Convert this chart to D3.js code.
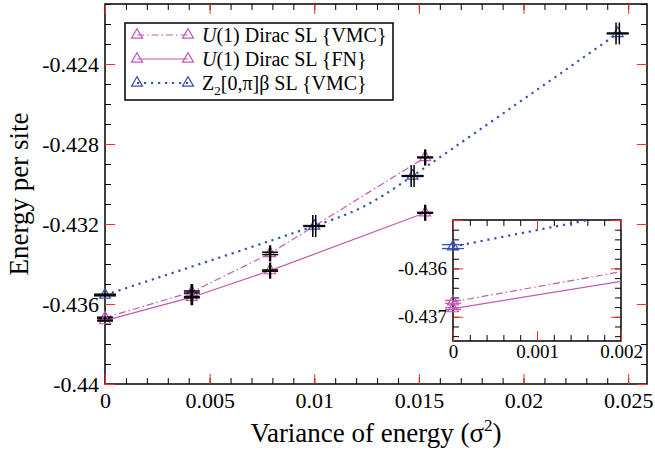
<!DOCTYPE html>
<html>
<head>
<meta charset="utf-8">
<script src="https://cdn.jsdelivr.net/npm/d3@7"></script>
<style>
    body { margin: 0; background: #fff; }
    svg text { font-family: "Liberation Serif", "Times New Roman", Times, "DejaVu Serif", serif; }
</style>
</head>
<body>
<svg id="chart" width="655" height="453"></svg>
<script>
// --- data ---
const diracVmcX = [0, 0.00415, 0.00789, 0.0153];
const diracVmcY = [-0.43669, -0.4354, -0.43347, -0.42867];
const diracVmcEx = [0, 0.00003, 0.00002, 0.00002];
const diracVmcEy = [0.00003, 0.00005, 0.00006, 0.00002];

const diracFnX = [0, 0.00415, 0.00789, 0.0153];
const diracFnY = [-0.43683, -0.43566, -0.43433, -0.43144];
const diracFnEx = [0, 0.00003, 0.00002, 0.00002];
const diracFnEy = [0.00002, 0.00003, 0.00003, 0.00002];

const z2X = [0, 0.01, 0.0147, 0.0245];
const z2Y = [-0.43555, -0.4321, -0.4296, -0.42247];
const z2Ex = [0, 0.00007, 0.00007, 0.00008];
const z2Ey = [0.00004, 0.00002, 0.00002, 0.00002];

const xMajor = [0, 0.005, 0.01, 0.015, 0.02, 0.025];
const xLabels = ["0", "0.005", "0.01", "0.015", "0.02", "0.025"];
const yMajor = [-0.44, -0.436, -0.432, -0.428, -0.424];
const yLabels = ["-0.44", "-0.436", "-0.432", "-0.428", "-0.424"];

const insetXMajor = [0, 0.001, 0.002];
const insetXLabels = ["0", "0.001", "0.002"];
const insetYMajor = [-0.437, -0.436, -0.435];
const insetYLabels = ["-0.437", "-0.436", ""];

const MAGENTA = "#c259b4";
const BLUE = "#3651b0";
const TICKRED = "#ff2a2a";
const SERIF = "Liberation Serif";

const svg = d3.select("#chart");

function rows(xs, ys, ex, ey) {
    return xs.map((v, i) => ({x: v, y: ys[i], ex: ex[i], ey: ey[i]}));
}

const series = [
    {key: "vmc", data: rows(diracVmcX, diracVmcY, diracVmcEx, diracVmcEy), color: MAGENTA,
        dash: "7,3,1.5,3", width: 1.2, cap: 8, curve: d3.curveLinear},
    {key: "fn", data: rows(diracFnX, diracFnY, diracFnEx, diracFnEy), color: MAGENTA,
        dash: null, width: 1.2, cap: 8, curve: d3.curveLinear},
    {key: "z2", data: rows(z2X, z2Y, z2Ex, z2Ey), color: BLUE,
        dash: "2.2,4.8", width: 2.2, cap: 11, curve: d3.curveNatural}
];

// minor tick values on a fixed step
function steps(lo, hi, step) {
    const n = Math.round((hi - lo) / step);
    return d3.range(n + 1).map(i => +(lo + i * step).toFixed(6));
}

function drawAxes(g, x, y, box, opt) {
    const sides = [
        {ax: d3.axisBottom, sc: x, tr: `translate(0,${box.bottom})`, major: opt.xMajor, minor: opt.xMinor, labels: opt.xLabels, pad: opt.xPad},
        {ax: d3.axisTop, sc: x, tr: `translate(0,${box.top})`, major: opt.xMajor, minor: opt.xMinor},
        {ax: d3.axisLeft, sc: y, tr: `translate(${box.left},0)`, major: opt.yMajor, minor: opt.yMinor, labels: opt.yLabels, pad: opt.yPad},
        {ax: d3.axisRight, sc: y, tr: `translate(${box.right},0)`, major: opt.yMajor, minor: opt.yMinor}
    ];
    sides.forEach(s => {
        g.append('g')
            .attr('transform', s.tr)
            .call(s.ax(s.sc).tickValues(s.minor).tickSize(-6).tickFormat(""))
            .call(a => a.select('.domain').remove())
            .selectAll('line').attr('stroke', "#000").attr('stroke-width', 1);

        const lab = s.labels;
        const major = g.append('g')
            .attr('transform', s.tr)
            .call(s.ax(s.sc).tickValues(s.major).tickSize(-10)
                .tickPadding(s.pad || 3)
                .tickFormat((d, i) => lab ? lab[i] : ""))
            .attr('font-family', SERIF)
            .attr('font-size', opt.fontSize);
        major.select('.domain').remove();
        major.selectAll('line').attr('stroke', TICKRED).attr('stroke-width', 1);
        major.selectAll('text').attr('fill', "#000");
    });
}

function drawSeries(g, s, x, y, errColor, clipId) {
    const line = d3.line().x(d => x(d.x)).y(d => y(d.y)).curve(s.curve);
    g.append('path')
        .datum(s.data)
        .attr('d', line)
        .attr('fill', "none")
        .attr('stroke', s.color)
        .attr('stroke-width', s.width)
        .attr('stroke-dasharray', s.dash)
        .attr('clip-path', clipId ? `url(#${clipId})` : null);

    const pts = clipId ? s.data.filter(d => d.x <= x.domain()[1]) : s.data;

    g.selectAll(`.mk-${s.key}`)
        .data(pts)
        .enter()
        .append('path')
        .attr('class', `mk-${s.key}`)
        .attr('d', d3.symbol().type(d3.symbolTriangle).size(52))
        .attr('transform', d => `translate(${x(d.x)},${y(d.y)})`)
        .attr('fill', "none")
        .attr('stroke', s.color)
        .attr('stroke-width', 1.2);

    // error bars with caps
    const eb = g.selectAll(`.eb-${s.key}`)
        .data(pts)
        .enter()
        .append('g')
        .attr('class', `eb-${s.key}`)
        .attr('stroke', errColor || s.color)
        .attr('stroke-width', errColor ? 1.5 : 1.3);
    const c = s.cap;
    eb.each(function (d) {
        const e = d3.select(this);
        const px = x(d.x), py = y(d.y);
        const y0 = y(d.y - d.ey), y1 = y(d.y + d.ey);
        e.append('line').attr('x1', px).attr('x2', px).attr('y1', y0).attr('y2', y1);
        [y0, y1].forEach(v => e.append('line').attr('x1', px - c).attr('x2', px + c).attr('y1', v).attr('y2', v));
        if (d.ex > 0) {
            const x0 = x(d.x - d.ex), x1 = x(d.x + d.ex);
            e.append('line').attr('x1', x0).attr('x2', x1).attr('y1', py).attr('y2', py);
            [x0, x1].forEach(v => e.append('line').attr('x1', v).attr('x2', v).attr('y1', py - c).attr('y2', py + c));
        }
    });
}

// --- main panel ---
const box = {left: 105, right: 647, top: 4, bottom: 384};
const x = d3.scaleLinear().domain([0, 0.0259]).range([box.left, box.right]);
const y = d3.scaleLinear().domain([-0.44, -0.421]).range([box.bottom, box.top]);

const main = svg.append('g').attr('class', "main");
main.append('rect')
    .attr('x', box.left).attr('y', box.top)
    .attr('width', box.right - box.left).attr('height', box.bottom - box.top)
    .attr('fill', "none").attr('stroke', "#000").attr('stroke-width', 1.5);

drawAxes(main, x, y, box, {
    xMajor: xMajor, xMinor: steps(0, 0.025, 0.001), xLabels: xLabels, xPad: 8,
    yMajor: yMajor, yMinor: steps(-0.44, -0.421, 0.001), yLabels: yLabels, yPad: 6,
    fontSize: 22
});

series.forEach(s => drawSeries(main, s, x, y, "#000", null));

// axis titles
svg.append('text')
    .attr('x', (box.left + box.right) / 2)
    .attr('y', 442)
    .attr('text-anchor', 'middle')
    .attr('font-family', SERIF)
    .attr('font-size', 27)
    .call(t => {
        t.append('tspan').text("Variance of energy (σ");
        t.append('tspan').attr('font-size', 17).attr('dy', -11).text("2");
        t.append('tspan').attr('dy', 11).text(")");
    });

svg.append('text')
    .attr('transform', `translate(28,${(box.top + box.bottom) / 2}) rotate(-90)`)
    .attr('text-anchor', 'middle')
    .attr('font-family', SERIF)
    .attr('font-size', 27)
    .text("Energy per site");

// --- legend ---
const legend = svg.append('g').attr('class', "legend");
legend.append('rect')
    .attr('x', 125).attr('y', 23).attr('width', 268).attr('height', 77)
    .attr('fill', "#fff").attr('stroke', "#000").attr('stroke-width', 1.5);

const legendRows = [
    {s: series[0], y: 35, parts: [["U", true], ["(1) Dirac SL {VMC}", false]]},
    {s: series[1], y: 59, parts: [["U", true], ["(1) Dirac SL {FN}", false]]},
    {s: series[2], y: 83, parts: null}
];
legendRows.forEach(r => {
    const gg = legend.append('g');
    gg.append('line')
        .attr('x1', 137).attr('x2', 188).attr('y1', r.y).attr('y2', r.y)
        .attr('stroke', r.s.color).attr('stroke-width', r.s.width)
        .attr('stroke-dasharray', r.s.dash);
    [137, 188].forEach(px => gg.append('path')
        .attr('d', d3.symbol().type(d3.symbolTriangle).size(52))
        .attr('transform', `translate(${px},${r.y})`)
        .attr('fill', "none").attr('stroke', r.s.color).attr('stroke-width', 1.2));
    const t = gg.append('text').attr('x', 202).attr('y', r.y + 7)
        .attr('font-family', SERIF).attr('font-size', 20);
    if (r.parts) {
        r.parts.forEach(p => t.append('tspan').attr('font-style', p[1] ? 'italic' : null).text(p[0]));
    } else {
        t.append('tspan').text("Z");
        t.append('tspan').attr('font-size', 13).attr('dy', 5).text("2");
        t.append('tspan').attr('dy', -5).text("[0,π]β SL {VMC}");
    }
});

// --- inset ---
const ibox = {left: 453, right: 621, top: 220, bottom: 341};
const ix = d3.scaleLinear().domain([0, 0.002]).range([ibox.left, ibox.right]);
const iy = d3.scaleLinear().domain([-0.4375, -0.435]).range([ibox.bottom, ibox.top]);

const inset = svg.append('g').attr('class', "inset");
inset.append('clipPath').attr('id', "insetClip")
    .append('rect')
    .attr('x', ibox.left).attr('y', ibox.top)
    .attr('width', ibox.right - ibox.left).attr('height', ibox.bottom - ibox.top);
inset.append('rect')
    .attr('x', ibox.left).attr('y', ibox.top)
    .attr('width', ibox.right - ibox.left).attr('height', ibox.bottom - ibox.top)
    .attr('fill', "#fff").attr('stroke', "#000").attr('stroke-width', 1.5);

drawAxes(inset, ix, iy, ibox, {
    xMajor: insetXMajor, xMinor: steps(0, 0.002, 0.0002), xLabels: insetXLabels, xPad: 4,
    yMajor: insetYMajor, yMinor: steps(-0.4374, -0.4352, 0.0002), yLabels: insetYLabels, yPad: 6,
    fontSize: 19
});

series.forEach(s => drawSeries(inset, s, ix, iy, null, "insetClip"));
</script>
</body>
</html>
